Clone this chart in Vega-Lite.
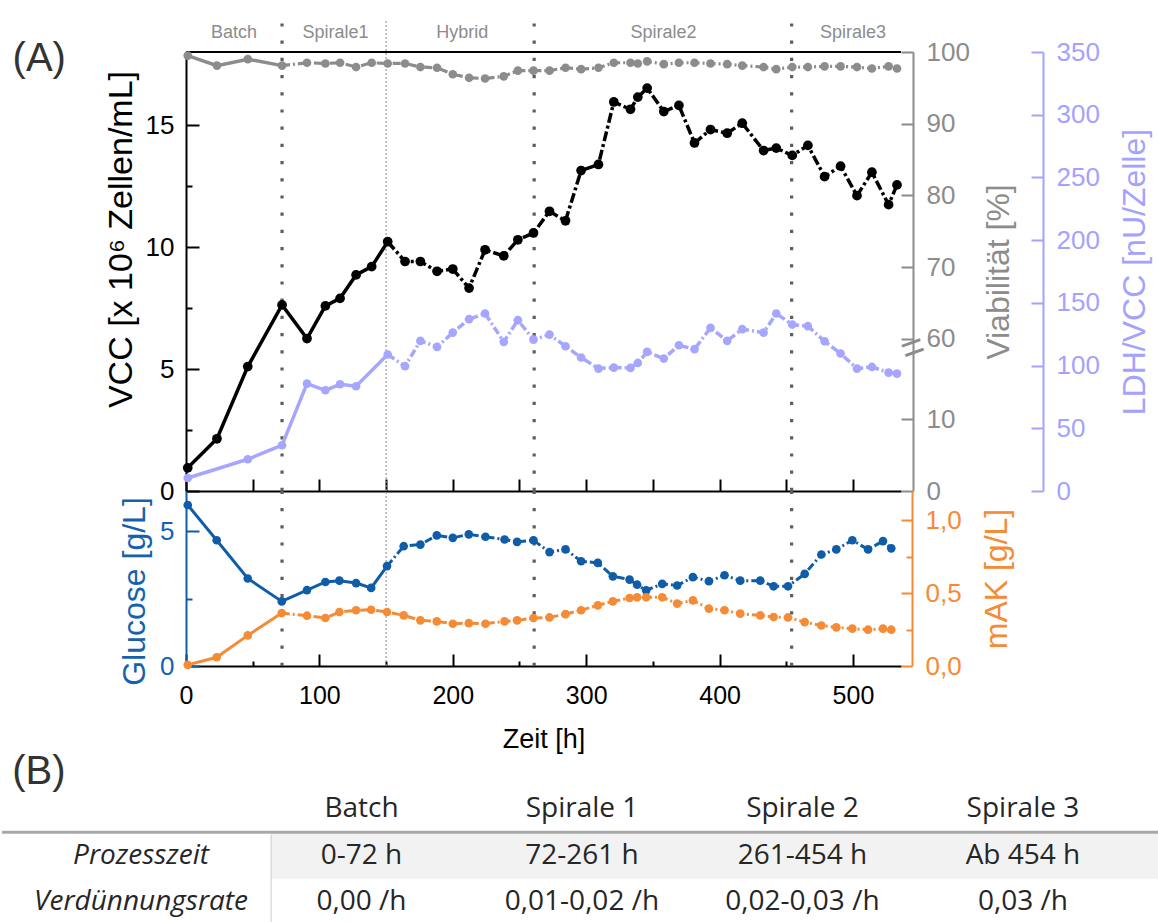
{
  "$schema": "https://vega.github.io/schema/vega-lite/v6.json",
  "padding": {"left": 0, "top": 17, "right": 0, "bottom": 0},
  "config": {
    "font": "Liberation Sans",
    "view": {"stroke": null},
    "axis": {"grid": false, "labelFontSize": 26, "titleFontSize": 32, "titleFontWeight": "normal", "labelOverlap": false, "labelFlush": false, "labelBound": false, "tickWidth": 2, "domainWidth": 2}
  },
  "datasets": {
    "vcc": [
      {"h": 1.3, "vcc": 0.95}, {"h": 23.2, "vcc": 2.14}, {"h": 46.3, "vcc": 5.10}, {"h": 72.0, "vcc": 7.63},
      {"h": 90.7, "vcc": 6.25}, {"h": 104.5, "vcc": 7.59}, {"h": 115.5, "vcc": 7.90}, {"h": 127.5, "vcc": 8.86},
      {"h": 139.2, "vcc": 9.20}, {"h": 151.2, "vcc": 10.22}, {"h": 164.2, "vcc": 9.41}, {"h": 175.7, "vcc": 9.41},
      {"h": 188.2, "vcc": 9.01}, {"h": 200.0, "vcc": 9.10}, {"h": 212.2, "vcc": 8.32}, {"h": 224.2, "vcc": 9.89},
      {"h": 238.2, "vcc": 9.64}, {"h": 248.8, "vcc": 10.30}, {"h": 260.5, "vcc": 10.58}, {"h": 272.5, "vcc": 11.47},
      {"h": 284.5, "vcc": 11.08}, {"h": 296.2, "vcc": 13.14}, {"h": 309.2, "vcc": 13.39}, {"h": 320.7, "vcc": 15.95},
      {"h": 333.2, "vcc": 15.65}, {"h": 338.7, "vcc": 16.15}, {"h": 345.7, "vcc": 16.52}, {"h": 358.2, "vcc": 15.56},
      {"h": 369.5, "vcc": 15.81}, {"h": 381.2, "vcc": 14.27}, {"h": 393.2, "vcc": 14.82}, {"h": 405.7, "vcc": 14.67},
      {"h": 417.0, "vcc": 15.08}, {"h": 433.0, "vcc": 13.96}, {"h": 442.5, "vcc": 14.06}, {"h": 454.5, "vcc": 13.76},
      {"h": 466.2, "vcc": 14.17}, {"h": 478.7, "vcc": 12.89}, {"h": 490.7, "vcc": 13.32}, {"h": 503.0, "vcc": 12.11},
      {"h": 514.2, "vcc": 13.07}, {"h": 526.7, "vcc": 11.74}, {"h": 533.0, "vcc": 12.55}
    ],
    "viab": [
      {"h": 1.3, "via": 99.5}, {"h": 23.2, "via": 98.1}, {"h": 46.3, "via": 99.0}, {"h": 72.0, "via": 98.1},
      {"h": 90.7, "via": 98.5}, {"h": 104.5, "via": 98.4}, {"h": 115.5, "via": 98.5}, {"h": 127.5, "via": 97.9},
      {"h": 139.2, "via": 98.5}, {"h": 151.2, "via": 98.4}, {"h": 164.2, "via": 98.4}, {"h": 175.7, "via": 97.9},
      {"h": 188.2, "via": 97.8}, {"h": 200.0, "via": 96.9}, {"h": 212.2, "via": 96.4}, {"h": 224.2, "via": 96.3},
      {"h": 238.2, "via": 96.6}, {"h": 248.8, "via": 97.4}, {"h": 260.5, "via": 97.4}, {"h": 272.5, "via": 97.4},
      {"h": 284.5, "via": 97.8}, {"h": 296.2, "via": 97.6}, {"h": 309.2, "via": 97.8}, {"h": 320.7, "via": 98.5},
      {"h": 333.2, "via": 98.5}, {"h": 338.7, "via": 98.4}, {"h": 345.7, "via": 98.7}, {"h": 358.2, "via": 98.3},
      {"h": 369.5, "via": 98.5}, {"h": 381.2, "via": 98.5}, {"h": 393.2, "via": 98.4}, {"h": 405.7, "via": 98.3},
      {"h": 417.0, "via": 98.1}, {"h": 433.0, "via": 97.9}, {"h": 442.5, "via": 97.6}, {"h": 454.5, "via": 97.9},
      {"h": 466.2, "via": 97.9}, {"h": 478.7, "via": 98.0}, {"h": 490.7, "via": 98.0}, {"h": 503.0, "via": 97.9},
      {"h": 514.2, "via": 97.7}, {"h": 526.7, "via": 98.0}, {"h": 533.0, "via": 97.7}
    ],
    "ldh": [
      {"h": 1.3, "ldh": 10.4}, {"h": 46.3, "ldh": 25.3}, {"h": 72.0, "ldh": 36.5}, {"h": 90.7, "ldh": 85.6},
      {"h": 104.5, "ldh": 80.3}, {"h": 115.5, "ldh": 85.1}, {"h": 127.5, "ldh": 83.5}, {"h": 151.2, "ldh": 108.8},
      {"h": 164.2, "ldh": 99.5}, {"h": 175.7, "ldh": 119.7}, {"h": 188.2, "ldh": 114.9}, {"h": 200.0, "ldh": 126.3},
      {"h": 212.2, "ldh": 137.0}, {"h": 224.2, "ldh": 141.5}, {"h": 238.2, "ldh": 118.9}, {"h": 248.8, "ldh": 136.2},
      {"h": 260.5, "ldh": 120.7}, {"h": 272.5, "ldh": 124.7}, {"h": 284.5, "ldh": 115.4}, {"h": 296.2, "ldh": 106.4},
      {"h": 309.2, "ldh": 97.6}, {"h": 320.7, "ldh": 98.4}, {"h": 333.2, "ldh": 98.1}, {"h": 338.7, "ldh": 102.1},
      {"h": 345.7, "ldh": 110.9}, {"h": 358.2, "ldh": 105.6}, {"h": 369.5, "ldh": 116.2}, {"h": 381.2, "ldh": 113.1},
      {"h": 393.2, "ldh": 130.1}, {"h": 405.7, "ldh": 119.7}, {"h": 417.0, "ldh": 129.0}, {"h": 433.0, "ldh": 126.3},
      {"h": 442.5, "ldh": 141.5}, {"h": 454.5, "ldh": 132.7}, {"h": 466.2, "ldh": 131.4}, {"h": 478.7, "ldh": 119.4},
      {"h": 490.7, "ldh": 109.6}, {"h": 503.0, "ldh": 97.6}, {"h": 514.2, "ldh": 98.9}, {"h": 526.7, "ldh": 94.4},
      {"h": 533.0, "ldh": 93.6}
    ],
    "glc": [
      {"h": 1.3, "glc": 5.98}, {"h": 23.0, "glc": 4.67}, {"h": 46.3, "glc": 3.25}, {"h": 71.8, "glc": 2.40},
      {"h": 90.7, "glc": 2.82}, {"h": 104.5, "glc": 3.12}, {"h": 115.0, "glc": 3.17}, {"h": 127.5, "glc": 3.08},
      {"h": 138.8, "glc": 2.90}, {"h": 150.7, "glc": 3.71}, {"h": 163.2, "glc": 4.45}, {"h": 175.7, "glc": 4.51},
      {"h": 188.0, "glc": 4.85}, {"h": 200.0, "glc": 4.76}, {"h": 212.0, "glc": 4.89}, {"h": 224.5, "glc": 4.80},
      {"h": 238.8, "glc": 4.70}, {"h": 248.2, "glc": 4.61}, {"h": 260.5, "glc": 4.67}, {"h": 272.5, "glc": 4.23},
      {"h": 284.5, "glc": 4.33}, {"h": 296.2, "glc": 3.89}, {"h": 308.7, "glc": 3.83}, {"h": 320.0, "glc": 3.33},
      {"h": 332.5, "glc": 3.21}, {"h": 338.2, "glc": 3.02}, {"h": 345.0, "glc": 2.81}, {"h": 357.0, "glc": 3.05},
      {"h": 368.2, "glc": 2.99}, {"h": 380.0, "glc": 3.30}, {"h": 392.0, "glc": 3.15}, {"h": 403.7, "glc": 3.37},
      {"h": 415.5, "glc": 3.17}, {"h": 430.5, "glc": 3.17}, {"h": 440.5, "glc": 2.96}, {"h": 451.3, "glc": 2.96},
      {"h": 463.8, "glc": 3.42}, {"h": 476.3, "glc": 4.14}, {"h": 487.5, "glc": 4.33}, {"h": 499.5, "glc": 4.67},
      {"h": 511.3, "glc": 4.33}, {"h": 522.5, "glc": 4.64}, {"h": 528.7, "glc": 4.37}
    ],
    "mak": [
      {"h": 1.3, "mak": 0.008}, {"h": 23.0, "mak": 0.06}, {"h": 46.3, "mak": 0.21}, {"h": 71.8, "mak": 0.363},
      {"h": 90.7, "mak": 0.345}, {"h": 104.5, "mak": 0.329}, {"h": 115.0, "mak": 0.37}, {"h": 127.5, "mak": 0.382},
      {"h": 138.8, "mak": 0.386}, {"h": 150.7, "mak": 0.37}, {"h": 163.2, "mak": 0.347}, {"h": 175.7, "mak": 0.313},
      {"h": 188.0, "mak": 0.306}, {"h": 200.0, "mak": 0.29}, {"h": 212.0, "mak": 0.294}, {"h": 224.5, "mak": 0.29},
      {"h": 238.8, "mak": 0.306}, {"h": 248.2, "mak": 0.313}, {"h": 260.5, "mak": 0.329}, {"h": 272.5, "mak": 0.333},
      {"h": 284.5, "mak": 0.356}, {"h": 296.2, "mak": 0.382}, {"h": 308.7, "mak": 0.416}, {"h": 320.0, "mak": 0.443},
      {"h": 332.5, "mak": 0.466}, {"h": 338.2, "mak": 0.471}, {"h": 345.0, "mak": 0.471}, {"h": 357.0, "mak": 0.471},
      {"h": 368.2, "mak": 0.428}, {"h": 380.0, "mak": 0.45}, {"h": 392.0, "mak": 0.393}, {"h": 403.7, "mak": 0.382},
      {"h": 415.5, "mak": 0.359}, {"h": 430.5, "mak": 0.347}, {"h": 440.5, "mak": 0.336}, {"h": 451.3, "mak": 0.333},
      {"h": 463.8, "mak": 0.301}, {"h": 476.3, "mak": 0.278}, {"h": 487.5, "mak": 0.265}, {"h": 499.5, "mak": 0.256},
      {"h": 511.3, "mak": 0.249}, {"h": 522.5, "mak": 0.256}, {"h": 528.7, "mak": 0.249}
    ],
    "grenzen": [
      {"h": 72, "art": "Wechsel"}, {"h": 150, "art": "Hybrid"}, {"h": 261, "art": "Wechsel"}, {"h": 454, "art": "Wechsel"}
    ],
    "abschnitte": [
      {"name": "Batch", "h": 36}, {"name": "Spirale1", "h": 112}, {"name": "Hybrid", "h": 207},
      {"name": "Spirale2", "h": 358}, {"name": "Spirale3", "h": 500}
    ],
    "tabelle": [
      {"zeile": 1, "spalte": 1, "text": "Batch"}, {"zeile": 1, "spalte": 2, "text": "Spirale 1"},
      {"zeile": 1, "spalte": 3, "text": "Spirale 2"}, {"zeile": 1, "spalte": 4, "text": "Spirale 3"},
      {"zeile": 2, "spalte": 0, "text": "Prozesszeit"}, {"zeile": 2, "spalte": 1, "text": "0-72 h"},
      {"zeile": 2, "spalte": 2, "text": "72-261 h"}, {"zeile": 2, "spalte": 3, "text": "261-454 h"},
      {"zeile": 2, "spalte": 4, "text": "Ab 454 h"},
      {"zeile": 3, "spalte": 0, "text": "Verdünnungsrate"}, {"zeile": 3, "spalte": 1, "text": "0,00 /h"},
      {"zeile": 3, "spalte": 2, "text": "0,01-0,02 /h"}, {"zeile": 3, "spalte": 3, "text": "0,02-0,03 /h"},
      {"zeile": 3, "spalte": 4, "text": "0,03 /h"}
    ]
  },
  "bounds": "flush",
  "spacing": 0,
  "resolve": {"scale": {"x": "independent", "y": "independent"}},
  "vconcat": [
    {
      "width": 715,
      "height": 439,
      "layer": [
        {
          "layer": [
            {
              "data": {"name": "grenzen"},
              "transform": [{"filter": "datum.art == 'Wechsel'"}],
              "mark": {"type": "rule", "color": "#5e5e5e", "strokeWidth": 3.2, "strokeDash": [3.2, 14]},
              "encoding": {
                "x": {"field": "h", "type": "quantitative", "scale": {"domain": [0, 536], "nice": false}},
                "y": {"datum": 0, "type": "quantitative", "scale": {"domain": [0, 18], "nice": false}},
                "y2": {"datum": 19.35}
              }
            },
            {
              "data": {"name": "grenzen"},
              "transform": [{"filter": "datum.art == 'Hybrid'"}],
              "mark": {"type": "rule", "color": "#9a9a9a", "strokeWidth": 1.2, "strokeDash": [2, 2]},
              "encoding": {
                "x": {"field": "h", "type": "quantitative", "scale": {"domain": [0, 536], "nice": false}},
                "y": {"datum": 0, "type": "quantitative", "scale": {"domain": [0, 18], "nice": false}},
                "y2": {"datum": 19.35}
              }
            },
            {
              "data": {"values": [{}]},
              "mark": {"type": "rule", "color": "black", "strokeWidth": 2},
              "encoding": {
                "y": {"datum": 18, "type": "quantitative", "scale": {"domain": [0, 18], "nice": false}}
              }
            },
            {
              "data": {"name": "abschnitte"},
              "mark": {"type": "text", "fontSize": 18, "color": "#8c8c8c", "align": "center", "baseline": "middle"},
              "encoding": {
                "x": {"field": "h", "type": "quantitative", "scale": {"domain": [0, 536], "nice": false}},
                "y": {"datum": 18.78, "type": "quantitative", "scale": {"domain": [0, 18], "nice": false}},
                "text": {"field": "name"}
              }
            },
            {
              "data": {"values": [{}]},
              "mark": {"type": "text", "text": "(A)", "fontSize": 40, "color": "#333333", "align": "center", "baseline": "middle"},
              "encoding": {
                "x": {"datum": -110, "type": "quantitative", "scale": {"domain": [0, 536], "nice": false}},
                "y": {"datum": 17.7, "type": "quantitative", "scale": {"domain": [0, 18], "nice": false}}
              }
            },
            {
              "data": {"name": "vcc"},
              "transform": [{"filter": "datum.h <= 152"}],
              "mark": {"type": "line", "color": "black", "strokeWidth": 3.5},
              "encoding": {
                "x": {
                  "field": "h", "type": "quantitative", "scale": {"domain": [0, 536], "nice": false},
                  "axis": {
                    "orient": "bottom", "title": null, "labels": false,
                    "values": [0, 25, 50, 75, 100, 125, 150, 175, 200, 225, 250, 275, 300, 325, 350, 375, 400, 425, 450, 475, 500, 525],
                    "tickSize": -12, "domainColor": "black", "tickColor": "black",
                    "tickDash": {"condition": {"test": "datum.value % 50 != 0", "value": [5, 100]}, "value": []}
                  }
                },
                "y": {
                  "field": "vcc", "type": "quantitative", "scale": {"domain": [0, 18], "nice": false},
                  "axis": {
                    "orient": "left", "values": [0, 2.5, 5, 7.5, 10, 12.5, 15],
                    "labelExpr": "datum.value % 5 == 0 ? datum.label : ''",
                    "tickSize": -13, "labelPadding": 25,
                    "tickDash": {"condition": {"test": "datum.value % 5 != 0", "value": [6, 100]}, "value": []},
                    "domainColor": "black", "tickColor": "black", "labelColor": "black",
                    "title": "VCC [x 10⁶ Zellen/mL]", "titleColor": "black", "titlePadding": 7,
                    "titleFontSize": 34, "titleY": 187
                  }
                }
              }
            },
            {
              "data": {"name": "vcc"},
              "transform": [{"filter": "datum.h >= 150"}],
              "mark": {"type": "line", "color": "black", "strokeWidth": 3.5, "strokeDash": [10, 3, 3, 3]},
              "encoding": {
                "x": {"field": "h", "type": "quantitative", "scale": {"domain": [0, 536], "nice": false}},
                "y": {"field": "vcc", "type": "quantitative", "scale": {"domain": [0, 18], "nice": false}}
              }
            },
            {
              "data": {"name": "vcc"},
              "mark": {"type": "circle", "color": "black", "size": 95, "opacity": 1},
              "encoding": {
                "x": {"field": "h", "type": "quantitative", "scale": {"domain": [0, 536], "nice": false}},
                "y": {"field": "vcc", "type": "quantitative", "scale": {"domain": [0, 18], "nice": false}}
              }
            }
          ]
        },
        {
          "layer": [
            {
              "data": {"name": "viab"},
              "transform": [{"filter": "datum.h <= 73"}],
              "mark": {"type": "line", "color": "#8c8c8c", "strokeWidth": 3.5},
              "encoding": {
                "x": {"field": "h", "type": "quantitative", "scale": {"domain": [0, 536], "nice": false}},
                "y": {
                  "field": "via", "type": "quantitative", "scale": {"domain": [38.75, 100], "nice": false},
                  "axis": {
                    "orient": "right", "offset": 12,
                    "values": [38.75, 43.75, 48.75, 53.75, 60, 65, 70, 75, 80, 85, 90, 95, 100],
                    "labelExpr": "datum.value == 38.75 ? '0' : datum.value == 48.75 ? '10' : (datum.value >= 60 && datum.value % 10 == 0) ? datum.label : ''",
                    "tickSize": -12, "labelPadding": 25,
                    "tickDash": {"condition": {"test": "datum.value == 43.75 || datum.value == 53.75 || datum.value % 10 == 5", "value": [6, 100]}, "value": []},
                    "domainColor": "#8c8c8c", "tickColor": "#8c8c8c", "labelColor": "#8c8c8c",
                    "title": "Viabilität [%]", "titleColor": "#8c8c8c", "titleAngle": 270, "titleBaseline": "top", "titlePadding": 14
                  }
                }
              }
            },
            {
              "data": {"name": "viab"},
              "transform": [{"filter": "datum.h >= 71"}],
              "mark": {"type": "line", "color": "#8c8c8c", "strokeWidth": 3.2, "strokeDash": [8, 3, 2, 3]},
              "encoding": {
                "x": {"field": "h", "type": "quantitative", "scale": {"domain": [0, 536], "nice": false}},
                "y": {"field": "via", "type": "quantitative", "scale": {"domain": [38.75, 100], "nice": false}}
              }
            },
            {
              "data": {"name": "viab"},
              "mark": {"type": "circle", "color": "#8c8c8c", "size": 75, "opacity": 1},
              "encoding": {
                "x": {"field": "h", "type": "quantitative", "scale": {"domain": [0, 536], "nice": false}},
                "y": {"field": "via", "type": "quantitative", "scale": {"domain": [38.75, 100], "nice": false}}
              }
            },
            {
              "data": {"values": [{}]},
              "mark": {"type": "text", "text": "=", "fontSize": 40, "angle": 340, "color": "#8c8c8c", "align": "center", "baseline": "middle"},
              "encoding": {
                "x": {"datum": 545, "type": "quantitative", "scale": {"domain": [0, 536], "nice": false}},
                "y": {"datum": 58.6, "type": "quantitative", "scale": {"domain": [38.75, 100], "nice": false}}
              }
            }
          ]
        },
        {
          "layer": [
            {
              "data": {"name": "ldh"},
              "transform": [{"filter": "datum.h <= 152"}],
              "mark": {"type": "line", "color": "#a6a6ff", "strokeWidth": 3.5},
              "encoding": {
                "x": {"field": "h", "type": "quantitative", "scale": {"domain": [0, 536], "nice": false}},
                "y": {
                  "field": "ldh", "type": "quantitative", "scale": {"domain": [0, 350], "nice": false},
                  "axis": {
                    "orient": "right", "offset": 142,
                    "values": [0, 25, 50, 75, 100, 125, 150, 175, 200, 225, 250, 275, 300, 325, 350],
                    "labelExpr": "datum.value % 50 == 0 ? datum.label : ''",
                    "tickSize": -12, "labelPadding": 25,
                    "tickDash": {"condition": {"test": "datum.value % 50 != 0", "value": [6, 100]}, "value": []},
                    "domainColor": "#a3a3ff", "tickColor": "#a3a3ff", "labelColor": "#a3a3ff",
                    "title": "LDH/VCC [nU/Zelle]", "titleColor": "#a3a3ff", "titleAngle": 270, "titleBaseline": "top", "titlePadding": 20
                  }
                }
              }
            },
            {
              "data": {"name": "ldh"},
              "transform": [{"filter": "datum.h >= 150"}],
              "mark": {"type": "line", "color": "#a6a6ff", "strokeWidth": 3.5, "strokeDash": [8, 3, 2, 3]},
              "encoding": {
                "x": {"field": "h", "type": "quantitative", "scale": {"domain": [0, 536], "nice": false}},
                "y": {"field": "ldh", "type": "quantitative", "scale": {"domain": [0, 350], "nice": false}}
              }
            },
            {
              "data": {"name": "ldh"},
              "mark": {"type": "circle", "color": "#a6a6ff", "size": 75, "opacity": 1},
              "encoding": {
                "x": {"field": "h", "type": "quantitative", "scale": {"domain": [0, 536], "nice": false}},
                "y": {"field": "ldh", "type": "quantitative", "scale": {"domain": [0, 350], "nice": false}}
              }
            }
          ]
        }
      ],
      "resolve": {"scale": {"y": "independent"}}
    },
    {
      "width": 715,
      "height": 175,
      "layer": [
        {
          "layer": [
            {
              "data": {"name": "grenzen"},
              "transform": [{"filter": "datum.art == 'Wechsel'"}],
              "mark": {"type": "rule", "color": "#5e5e5e", "strokeWidth": 3.2, "strokeDash": [3.2, 14]},
              "encoding": {
                "x": {"field": "h", "type": "quantitative", "scale": {"domain": [0, 536], "nice": false}},
                "y": {"datum": 0, "type": "quantitative", "scale": {"domain": [0, 6.5], "nice": false}},
                "y2": {"datum": 6.5}
              }
            },
            {
              "data": {"name": "grenzen"},
              "transform": [{"filter": "datum.art == 'Hybrid'"}],
              "mark": {"type": "rule", "color": "#9a9a9a", "strokeWidth": 1.2, "strokeDash": [2, 2]},
              "encoding": {
                "x": {"field": "h", "type": "quantitative", "scale": {"domain": [0, 536], "nice": false}},
                "y": {"datum": 0, "type": "quantitative", "scale": {"domain": [0, 6.5], "nice": false}},
                "y2": {"datum": 6.5}
              }
            },
            {
              "data": {"name": "glc"},
              "transform": [{"filter": "datum.h <= 152"}],
              "mark": {"type": "line", "color": "#0f5ca8", "strokeWidth": 3},
              "encoding": {
                "x": {
                  "field": "h", "type": "quantitative", "scale": {"domain": [0, 536], "nice": false},
                  "axis": {
                    "orient": "bottom",
                    "values": [0, 50, 100, 150, 200, 250, 300, 350, 400, 450, 500],
                    "labelExpr": "datum.value % 100 == 0 ? datum.label : ''",
                    "tickSize": -12, "labelPadding": 29, "labelFontSize": 25,
                    "tickDash": {"condition": {"test": "datum.value % 100 != 0", "value": [5, 100]}, "value": []},
                    "domainColor": "black", "tickColor": "black", "labelColor": "black",
                    "title": "Zeit [h]", "titleFontSize": 27, "titleColor": "black", "titlePadding": 18
                  }
                },
                "y": {
                  "field": "glc", "type": "quantitative", "scale": {"domain": [0, 6.5], "nice": false},
                  "axis": {
                    "orient": "left", "values": [0, 2.5, 5],
                    "labelExpr": "datum.value % 5 == 0 ? datum.label : ''",
                    "tickSize": -13, "labelPadding": 25,
                    "tickDash": {"condition": {"test": "datum.value % 5 != 0", "value": [6, 100]}, "value": []},
                    "domainColor": "#0f5ca8", "tickColor": "#0f5ca8", "labelColor": "#1462ae",
                    "title": "Glucose [g/L]", "titleColor": "#1462ae", "titlePadding": 8, "titleY": 100
                  }
                }
              }
            },
            {
              "data": {"name": "glc"},
              "transform": [{"filter": "datum.h >= 150"}],
              "mark": {"type": "line", "color": "#0f5ca8", "strokeWidth": 3, "strokeDash": [8, 3, 2, 3]},
              "encoding": {
                "x": {"field": "h", "type": "quantitative", "scale": {"domain": [0, 536], "nice": false}},
                "y": {"field": "glc", "type": "quantitative", "scale": {"domain": [0, 6.5], "nice": false}}
              }
            },
            {
              "data": {"name": "glc"},
              "mark": {"type": "circle", "color": "#0f5ca8", "size": 75, "opacity": 1},
              "encoding": {
                "x": {"field": "h", "type": "quantitative", "scale": {"domain": [0, 536], "nice": false}},
                "y": {"field": "glc", "type": "quantitative", "scale": {"domain": [0, 6.5], "nice": false}}
              }
            }
          ]
        },
        {
          "layer": [
            {
              "data": {"name": "mak"},
              "transform": [{"filter": "datum.h <= 73"}],
              "mark": {"type": "line", "color": "#f58b34", "strokeWidth": 3},
              "encoding": {
                "x": {"field": "h", "type": "quantitative", "scale": {"domain": [0, 536], "nice": false}},
                "y": {
                  "field": "mak", "type": "quantitative", "scale": {"domain": [0, 1.2], "nice": false},
                  "axis": {
                    "orient": "right", "offset": 11,
                    "values": [0, 0.25, 0.5, 0.75, 1],
                    "labelExpr": "datum.value == 0 ? '0,0' : datum.value == 0.5 ? '0,5' : datum.value == 1 ? '1,0' : ''",
                    "tickSize": -11, "labelPadding": 24,
                    "tickDash": {"condition": {"test": "datum.value == 0.25 || datum.value == 0.75", "value": [6, 100]}, "value": []},
                    "domainColor": "#f58b34", "tickColor": "#f58b34", "labelColor": "#f58b34",
                    "title": "mAK [g/L]", "titleColor": "#f58b34", "titleAngle": 270, "titleBaseline": "top", "titlePadding": 20
                  }
                }
              }
            },
            {
              "data": {"name": "mak"},
              "transform": [{"filter": "datum.h >= 71"}],
              "mark": {"type": "line", "color": "#f58b34", "strokeWidth": 3, "strokeDash": [8, 3, 2, 3]},
              "encoding": {
                "x": {"field": "h", "type": "quantitative", "scale": {"domain": [0, 536], "nice": false}},
                "y": {"field": "mak", "type": "quantitative", "scale": {"domain": [0, 1.2], "nice": false}}
              }
            },
            {
              "data": {"name": "mak"},
              "mark": {"type": "circle", "color": "#f58b34", "size": 75, "opacity": 1},
              "encoding": {
                "x": {"field": "h", "type": "quantitative", "scale": {"domain": [0, 536], "nice": false}},
                "y": {"field": "mak", "type": "quantitative", "scale": {"domain": [0, 1.2], "nice": false}}
              }
            }
          ]
        }
      ],
      "resolve": {"scale": {"y": "independent"}}
    },
    {
      "width": 715,
      "height": 258,
      "layer": [
        {
          "data": {"values": [{}]},
          "mark": {"type": "rect", "color": "#f2f2f2"},
          "encoding": {
            "x": {"datum": 0.59, "type": "quantitative", "scale": {"domain": [0.204, 3.447], "nice": false}, "axis": null},
            "x2": {"datum": 4.62},
            "y": {"datum": 1.5, "type": "quantitative", "scale": {"domain": [-2.075, 3.473], "nice": false, "reverse": true}, "axis": null},
            "y2": {"datum": 2.5}
          }
        },
        {
          "data": {"values": [{}]},
          "mark": {"type": "rule", "color": "#a8a8a8", "strokeWidth": 3},
          "encoding": {
            "x": {"datum": -0.63, "type": "quantitative", "scale": {"domain": [0.204, 3.447], "nice": false}, "axis": null},
            "x2": {"datum": 4.62},
            "y": {"datum": 1.5, "type": "quantitative", "scale": {"domain": [-2.075, 3.473], "nice": false, "reverse": true}, "axis": null}
          }
        },
        {
          "data": {"values": [{}]},
          "mark": {"type": "rule", "color": "#cccccc", "strokeWidth": 1},
          "encoding": {
            "x": {"datum": 0.59, "type": "quantitative", "scale": {"domain": [0.204, 3.447], "nice": false}, "axis": null},
            "y": {"datum": 1.55, "type": "quantitative", "scale": {"domain": [-2.075, 3.473], "nice": false, "reverse": true}, "axis": null},
            "y2": {"datum": 3.473}
          }
        },
        {
          "data": {"values": [{}]},
          "mark": {"type": "text", "text": "(B)", "fontSize": 40, "color": "#333333", "align": "center", "baseline": "middle"},
          "encoding": {
            "x": {"datum": -0.463, "type": "quantitative", "scale": {"domain": [0.204, 3.447], "nice": false}, "axis": null},
            "y": {"datum": 0.2, "type": "quantitative", "scale": {"domain": [-2.075, 3.473], "nice": false, "reverse": true}, "axis": null}
          }
        },
        {
          "data": {"name": "tabelle"},
          "transform": [{"filter": "datum.spalte > 0"}],
          "mark": {"type": "text", "font": "Open Sans", "fontSize": 28, "color": "#262626", "align": "center", "baseline": "middle"},
          "encoding": {
            "x": {"field": "spalte", "type": "quantitative", "scale": {"domain": [0.204, 3.447], "nice": false}, "axis": null},
            "y": {"field": "zeile", "type": "quantitative", "scale": {"domain": [-2.075, 3.473], "nice": false, "reverse": true}, "axis": null},
            "text": {"field": "text"}
          }
        },
        {
          "data": {"name": "tabelle"},
          "transform": [{"filter": "datum.spalte == 0"}],
          "mark": {"type": "text", "font": "Open Sans", "fontSize": 28, "fontStyle": "italic", "color": "#262626", "align": "center", "baseline": "middle"},
          "encoding": {
            "x": {"field": "spalte", "type": "quantitative", "scale": {"domain": [0.204, 3.447], "nice": false}, "axis": null},
            "y": {"field": "zeile", "type": "quantitative", "scale": {"domain": [-2.075, 3.473], "nice": false, "reverse": true}, "axis": null},
            "text": {"field": "text"}
          }
        }
      ]
    }
  ]
}
